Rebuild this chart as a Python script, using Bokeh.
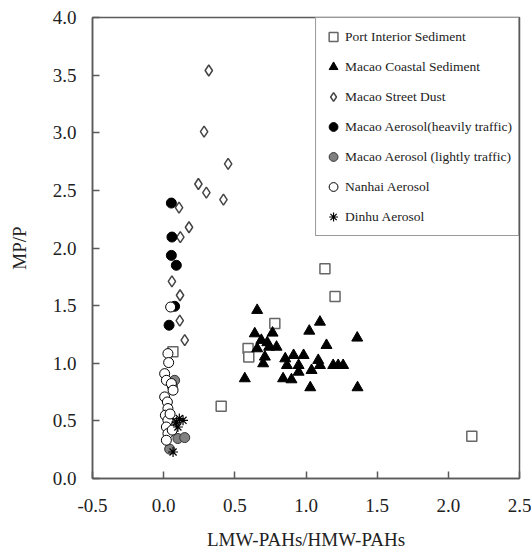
from bokeh.plotting import figure
from bokeh.models import Range1d, FixedTicker, NumeralTickFormatter, Legend
from bokeh.embed import file_html
from bokeh.resources import INLINE

# Port Interior Sediment
port_x = [0.065, 0.404, 0.593, 0.598, 0.781, 1.133, 1.204, 2.165]
port_y = [1.100, 0.627, 1.127, 1.055, 1.344, 1.820, 1.580, 0.367]

# Macao Coastal Sediment
coast_x = [0.657, 1.098, 1.023, 1.360, 0.640, 0.765, 0.686, 1.144, 0.657, 0.741,
           0.793, 0.711, 0.699, 0.854, 0.913, 0.983, 0.866, 0.948, 0.948, 1.086,
           1.098, 1.039, 1.191, 1.226, 1.261, 0.839, 0.898, 0.570, 1.030, 1.362,
           0.728]
coast_y = [1.460, 1.358, 1.280, 1.220, 1.257, 1.263, 1.200, 1.156, 1.127, 1.141,
           1.141, 1.055, 0.997, 1.040, 1.069, 1.069, 0.982, 0.982, 0.924, 1.026,
           0.982, 0.939, 0.982, 0.982, 0.982, 0.867, 0.858, 0.867, 0.789, 0.789,
           1.180]

# Macao Street Dust
dust_x = [0.317, 0.284, 0.453, 0.244, 0.300, 0.420, 0.108, 0.178, 0.117, 0.058,
          0.115, 0.113, 0.148]
dust_y = [3.540, 3.010, 2.730, 2.555, 2.480, 2.420, 2.350, 2.180, 2.095, 1.710,
          1.590, 1.370, 1.200]

# Macao Aerosol (heavily traffic)
heavy_x = [0.054, 0.058, 0.054, 0.089, 0.077, 0.038]
heavy_y = [2.390, 2.095, 1.936, 1.850, 1.494, 1.330]

# Macao Aerosol (lightly traffic)
light_x = [0.077, 0.061, 0.100, 0.148, 0.042, 0.055]
light_y = [0.852, 0.800, 0.347, 0.355, 0.255, 0.480]

# Nanhai Aerosol
nanhai_x = [0.049, 0.030, 0.035, 0.007, 0.019, 0.054, 0.066, 0.007, 0.026, 0.030,
            0.012, 0.030, 0.019, 0.030, 0.019, 0.045, 0.060]
nanhai_y = [1.488, 1.084, 1.006, 0.910, 0.852, 0.824, 0.766, 0.708, 0.664, 0.607,
            0.549, 0.505, 0.447, 0.390, 0.332, 0.560, 0.420]

# Dinhu Aerosol
dinhu_x = [0.136, 0.089, 0.100, 0.110, 0.066]
dinhu_y = [0.505, 0.490, 0.447, 0.520, 0.230]

x_ticks = [-0.5, 0.0, 0.5, 1.0, 1.5, 2.0, 2.5]
y_ticks = [0.0, 0.5, 1.0, 1.5, 2.0, 2.5, 3.0, 3.5, 4.0]

FONT = "Liberation Serif"
AX = "#5a5a5a"

p = figure(frame_width=427, frame_height=461, width=531, height=559,
           x_range=Range1d(-0.5, 2.5), y_range=Range1d(0, 4),
           output_backend="svg", toolbar_location=None,
           min_border_left=92, min_border_right=12, min_border_top=17, min_border_bottom=81)
p.xgrid.visible = False
p.ygrid.visible = False
p.outline_line_color = AX
p.outline_line_width = 1.5
p.background_fill_color = "white"
p.border_fill_color = "white"

for ax, ticks in ((p.xaxis[0], x_ticks), (p.yaxis[0], y_ticks)):
    ax.ticker = FixedTicker(ticks=ticks)
    ax.formatter = NumeralTickFormatter(format="0.0")
    ax.axis_line_color = AX
    ax.axis_line_width = 1.5
    ax.major_tick_line_color = AX
    ax.major_tick_line_width = 1.5
    ax.major_tick_in = 7
    ax.major_tick_out = 0
    ax.minor_tick_line_color = None
    ax.major_label_text_font = FONT
    ax.major_label_text_font_size = "19px"
    ax.major_label_text_color = "#222222"
    ax.axis_label_text_font = FONT
    ax.axis_label_text_font_size = "19px"
    ax.axis_label_text_font_style = "normal"
    ax.axis_label_text_color = "#222222"

p.xaxis.axis_label = "LMW-PAHs/HMW-PAHs"
p.yaxis.axis_label = "MP/P"
p.xaxis.major_label_standoff = 20
p.yaxis.major_label_standoff = 16
p.xaxis.axis_label_standoff = 14
p.yaxis.axis_label_standoff = 20

r1 = p.scatter(port_x, port_y, marker="square", size=10, fill_color="white",
               line_color="#666666", line_width=1.5)
r2 = p.scatter(coast_x, coast_y, marker="triangle", size=11, fill_color="black",
               line_color="black", line_width=1)
r3 = p.scatter(dust_x, dust_y, marker="diamond", size=11,
               fill_color="white", line_color="#444444", line_width=1.5)
r4 = p.scatter(heavy_x, heavy_y, marker="circle", size=10, fill_color="black",
               line_color="black", line_width=1)
r5 = p.scatter(light_x, light_y, marker="circle", size=10, fill_color="#808080",
               line_color="#333333", line_width=1)
r6 = p.scatter(nanhai_x, nanhai_y, marker="circle", size=10, fill_color="white",
               line_color="black", line_width=1)
r7 = p.scatter(dinhu_x, dinhu_y, marker="asterisk", size=10, fill_color=None,
               line_color="black", line_width=1.2)

legend = Legend(items=[
    ("Port Interior Sediment", [r1]),
    ("Macao Coastal Sediment", [r2]),
    ("Macao Street Dust", [r3]),
    ("Macao Aerosol(heavily traffic)", [r4]),
    ("Macao Aerosol (lightly traffic)", [r5]),
    ("Nanhai Aerosol", [r6]),
    ("Dinhu Aerosol", [r7]),
], location="top_right")
legend.margin = 0
legend.padding = 6
legend.spacing = 5
legend.label_height = 20
legend.glyph_height = 25
legend.glyph_width = 22
legend.label_standoff = 1
legend.label_text_font = FONT
legend.label_text_font_size = "13.5px"
legend.label_text_color = "#222222"
legend.border_line_color = "#333333"
legend.border_line_width = 1
legend.background_fill_alpha = 1
legend.background_fill_color = "white"
p.add_layout(legend, "center")

open("out.html", "w").write(file_html(p, INLINE))
